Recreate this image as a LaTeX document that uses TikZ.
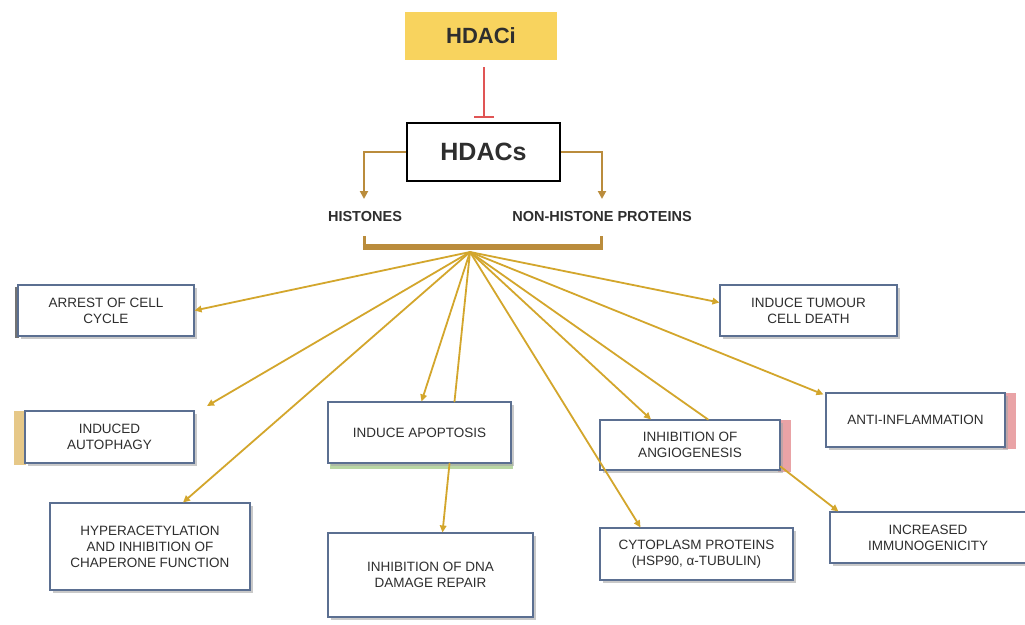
\documentclass[tikz,border=0pt]{standalone}
\usepackage{fontspec}
\setmainfont{Liberation Sans}
\usetikzlibrary{arrows.meta,shadows}
\definecolor{raygold}{HTML}{D3A62C}
\definecolor{brownline}{HTML}{BA8C3C}
\definecolor{hdacifill}{HTML}{F8D35E}
\definecolor{boxborder}{HTML}{5B6F91}
\definecolor{txt}{HTML}{2E2E2E}
\definecolor{inhib}{HTML}{E05555}
\definecolor{tanbar}{HTML}{E6C888}
\definecolor{redbar}{HTML}{E9A3A6}
\definecolor{greenbar}{HTML}{B9D7A4}
\begin{document}
\begin{tikzpicture}[x=1pt,y=-1pt,
  box/.style={draw=boxborder, line width=1.1pt, fill=white, text=txt,
    font=\fontsize{13.5}{16}\selectfont, align=center, inner sep=0pt,
    drop shadow={shadow xshift=3pt, shadow yshift=-3pt, fill=black!35, opacity=0.6}},
  ray/.style={draw=raygold, line width=1.8pt, line cap=round},
  rayarrow/.style={ray, -{Triangle[length=7pt,width=6.5pt]}},
  brownarrow/.style={draw=brownline, line width=2.4pt, -{Triangle[length=8pt,width=8pt]}},
  lbl/.style={font=\fontsize{14.5}{16}\selectfont\bfseries, text=txt}]
\useasboundingbox (0,0) rectangle (1025,624);
\fill[white] (0,0) rectangle (1025,624);

% top
\node[fill=hdacifill, minimum width=152pt, minimum height=48pt, inner sep=0pt,
  font=\fontsize{22}{24}\selectfont\bfseries, text=txt] (hdaci) at (481,36) {HDACi};
\node[draw=black, line width=1.6pt, fill=white, minimum width=153pt, minimum height=58pt,
  inner sep=0pt, font=\fontsize{25}{27}\selectfont\bfseries, text=txt] (hdacs) at (483.5,152) {HDACs};
\draw[inhib, line width=2pt, -{Bar[width=20pt,line width=2pt]}] ([xshift=3pt,yshift=-7pt]hdaci.south) -- ([xshift=0.5pt,yshift=4pt]hdacs.north);

\node[lbl] (hist) at (365,217) {HISTONES};
\node[lbl] (nonhist) at (602,217) {NON-HISTONE PROTEINS};
\coordinate (lcorner) at (364,152);
\coordinate (rcorner) at (602,152);
\draw[brownarrow] (hdacs.west) -- (lcorner) -- (364,199);
\draw[brownarrow] (hdacs.east) -- (rcorner) -- (602,199);

% bracket
\coordinate (bl) at (364,247);
\coordinate (br) at (601,247);
\draw[brownline, line width=3pt] (364,236) -- (bl);
\draw[brownline, line width=3pt] (601,236) -- (br);
\draw[brownline, line width=6pt] ([xshift=-1.5pt]bl) -- ([xshift=1.5pt]br);
\coordinate (hub) at (470,252);

% boxes
\fill[black!55] (15,287) rectangle (19,338);
\node[box, minimum width=176pt, minimum height=51pt] (arrest) at (106,310.5) {ARREST OF CELL\\CYCLE};
\fill[tanbar] (14,411) rectangle (26,465);
\node[box, minimum width=169pt, minimum height=52pt] (autoph) at (109.5,437) {INDUCED\\AUTOPHAGY};
\node[box, minimum width=200pt, minimum height=87pt] (hyper) at (150,546.5) {HYPERACETYLATION\\AND INHIBITION OF\\CHAPERONE FUNCTION};
\fill[greenbar] (330,462) rectangle (513,469);
\node[box, minimum width=183pt, minimum height=61pt] (apop) at (419.5,432.5) {INDUCE APOPTOSIS};
\node[box, minimum width=205pt, minimum height=84pt] (dna) at (430.5,575) {INHIBITION OF DNA\\DAMAGE REPAIR};
\node[box, minimum width=193pt, minimum height=52pt] (cyto) at (696.5,554) {CYTOPLASM PROTEINS\\(HSP90, α-TUBULIN)};
\fill[redbar] (778,420) rectangle (791,472);
\node[box, minimum width=180pt, minimum height=50pt] (angio) at (690,445) {INHIBITION OF\\ANGIOGENESIS};
\fill[redbar] (1003,393) rectangle (1016,449);
\node[box, minimum width=179pt, minimum height=54pt] (anti) at (915.5,420) {ANTI-INFLAMMATION};
\node[box, minimum width=177pt, minimum height=51pt] (tumour) at (808.5,310.5) {INDUCE TUMOUR\\CELL DEATH};
\node[box, minimum width=196pt, minimum height=51pt] (immuno) at (928,537.5) {INCREASED\\IMMUNOGENICITY};

% rays
\coordinate (autoend) at (207,406);
\draw[rayarrow] (hub) -- (arrest.east);
\draw[rayarrow] (hub) -- (autoend);
\draw[rayarrow] (hub) -- ([xshift=33pt]hyper.north);
\draw[rayarrow] (hub) -- ([xshift=2pt]apop.north);
\draw[ray] (hub) -- ([xshift=35pt]apop.north);
\draw[rayarrow] ([xshift=30pt]apop.south) -- ([xshift=12pt]dna.north);
\draw[rayarrow] (hub) -- ([xshift=-56pt]cyto.north);
\draw[rayarrow] (hub) -- ([xshift=-39pt]angio.north);
\draw[ray] (hub) -- ([xshift=18pt]angio.north);
\draw[rayarrow] (hub) -- ([xshift=-2pt,yshift=-2pt]anti.north west);
\draw[rayarrow] (hub) -- ([yshift=8pt]tumour.west);
\draw[rayarrow] ([yshift=4pt]angio.south east) -- ([xshift=9pt]immuno.north west);
\end{tikzpicture}
\end{document}
